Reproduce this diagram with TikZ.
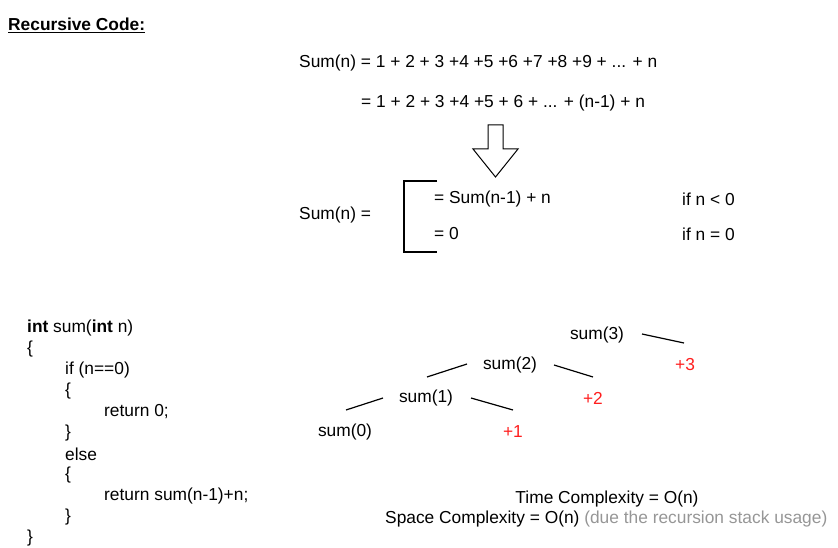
\documentclass[tikz,border=0pt]{standalone}
\usepackage{fontspec}
\setmainfont{Liberation Sans}
\usepackage{xcolor}
\usepackage{tikz}
\usetikzlibrary{positioning,calc}
\definecolor{plusred}{RGB}{255,30,30}
\definecolor{notegray}{RGB}{150,150,150}

\begin{document}
\begin{tikzpicture}[x=1pt,y=-1pt,
    txt/.style={anchor=west,inner sep=0pt,font=\fontsize{17.35}{20}\selectfont},
    call/.style={inner sep=0pt,font=\fontsize{17.35}{20}\selectfont},
    plus/.style={call,text=plusred},
    branch/.style={black,line width=1.2pt}]
    \useasboundingbox (0,0) rectangle (838,548);

    % Title
    \node[txt] (title) at (8,24) {\bfseries Recursive Code:};
    \draw[line width=1.3pt] ([yshift=-2.5pt]title.base west) -- ([yshift=-2.5pt]title.base east);

    % Expanding the sum
    \node[txt] (line1) at (299,63) {Sum(n) = 1 + 2 + 3 +4 +5 +6 +7 +8 +9 + ... + n};
    \node[txt] (line2) at (361,103) {= 1 + 2 + 3 +4 +5 + 6 + ... + (n-1) + n};

    % Hollow arrow
    \draw[line width=1pt] (488,125) -- (503,125) -- (503,149) -- (518,149) -- (495.5,177)
        -- (473,149) -- (488,149) -- cycle;

    % Recurrence
    \node[txt] (lhs) at (299,215) {Sum(n) =};
    \draw[line width=1.2pt] (437,181) -- (404,181) -- (404,252) -- (437,252);
    \node[txt] (case1) at (434,199) {= Sum(n-1) + n};
    \node[txt] (case0) at (434,234) {= 0};
    \node[txt] (cond1) at (682,199) {if n < 0};
    \node[txt] (cond0) at (682,234) {if n = 0};

    % Code
    \foreach \i/\x/\code in {1/27/{\textbf{int} sum(\textbf{int} n)}, 2/27/\{,
        3/65/{if (n==0)}, 4/65/\{, 5/104/{return 0;}, 6/65/\}, 7/65/else,
        8/65/\{, 9/104/{return sum(n-1)+n;}, 10/65/\}, 11/27/\}} {
        \node[txt] (code\i) at (\x,307+21*\i) {\code};
    }

    % Recursion tree
    \node[call] (s3) at (597,335) {sum(3)};
    \node[call] (s2) at (510,365) {sum(2)};
    \node[call] (s1) at (426,398) {sum(1)};
    \node[call] (s0) at (345,432) {sum(0)};
    \node[plus] (p3) at (685,365) {+3};
    \node[plus] (p2) at (593,398) {+2};
    \node[plus] (p1) at (513,432) {+1};

    \draw[branch] ($(s3)+(45,-1)$) -- ($(p3)+(-1,-22)$);
    \draw[branch] ($(s2)+(-43,-1)$) -- ($(s1)+(1,-21)$);
    \draw[branch] ($(s2)+(44,0)$) -- ($(p2)+(0,-21)$);
    \draw[branch] ($(s1)+(-43,0)$) -- ($(s0)+(1,-22)$);
    \draw[branch] ($(s1)+(45,0)$) -- ($(p1)+(0,-22)$);

    % Complexity
    \node[call] (time) at (607,499) {Time Complexity = O(n)};
    \node[txt] (space) at (385,519) {Space Complexity = O(n) \textcolor{notegray}{(due the recursion stack usage)}};
\end{tikzpicture}
\end{document}
